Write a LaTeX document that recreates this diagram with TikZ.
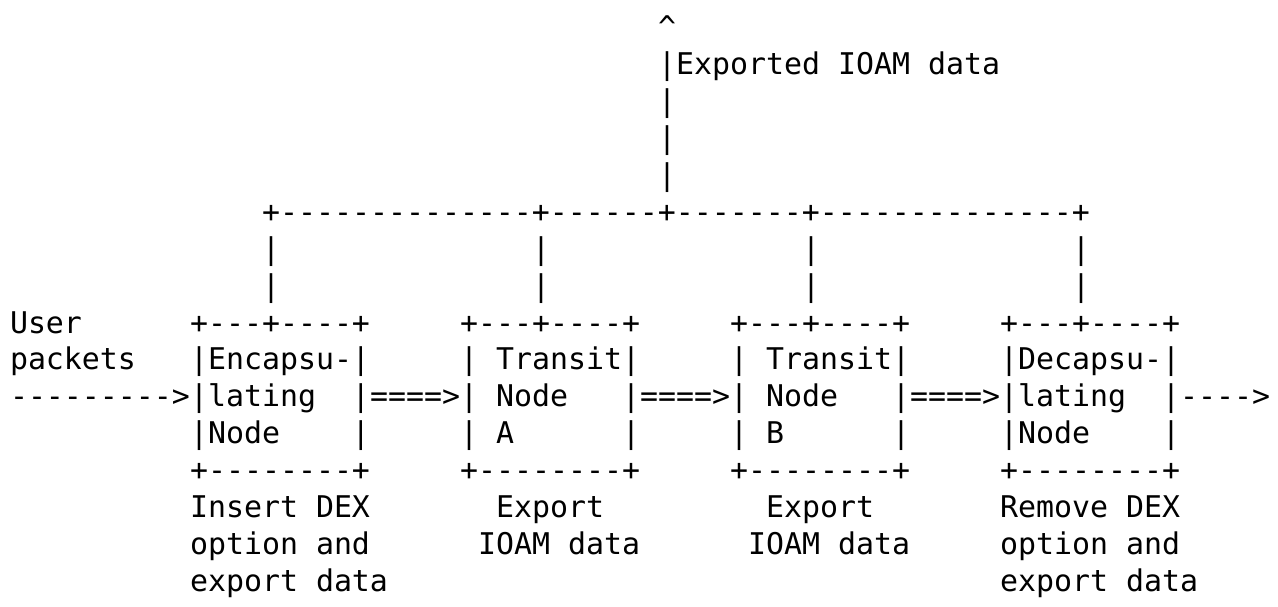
\documentclass[tikz,border=0pt]{standalone}
\usepackage{fontspec}
\setmonofont{DejaVu Sans Mono}
\begin{document}
\begin{tikzpicture}[x=18pt,y=-36.9pt,
  t/.style={inner sep=0pt,outer sep=0pt,anchor=base west,
            font=\ttfamily\fontsize{29.9}{36}\selectfont}]
\fill[white,use as bounding box] (-10pt,37.9pt) rectangle (1268pt,-569.1pt);
% upward export line
\node[t] (caret) at (36,0) {\textasciicircum};
\node[t] (explabel) at (36,1) {|Exported IOAM data};
\node[t] (up2) at (36,2) {|};
\node[t] (up3) at (36,3) {|};
\node[t] (up4) at (36,4) {|};
% collecting bus
\node[t] (bus) at (14,5) {+--------------+------+-------+--------------+};
\node[t] (d1a) at (14,6) {|};
\node[t] (d2a) at (29,6) {|};
\node[t] (d3a) at (44,6) {|};
\node[t] (d4a) at (59,6) {|};
\node[t] (d1b) at (14,7) {|};
\node[t] (d2b) at (29,7) {|};
\node[t] (d3b) at (44,7) {|};
\node[t] (d4b) at (59,7) {|};
% boxes: top edges
\node[t] (user) at (0,8) {User};
\node[t] (b1top) at (10,8) {+---+----+};
\node[t] (b2top) at (25,8) {+---+----+};
\node[t] (b3top) at (40,8) {+---+----+};
\node[t] (b4top) at (55,8) {+---+----+};
% row 9
\node[t] (packets) at (0,9) {packets};
\node[t] (b1r1) at (10,9) {|Encapsu-|};
\node[t] (b2r1) at (25,9) {|~Transit|};
\node[t] (b3r1) at (40,9) {|~Transit|};
\node[t] (b4r1) at (55,9) {|Decapsu-|};
% row 10 with arrows
\node[t] (inarrow) at (0,10) {--------->};
\node[t] (b1r2) at (10,10) {|lating~~|};
\node[t] (a12) at (20,10) {====>};
\node[t] (b2r2) at (25,10) {|~Node~~~|};
\node[t] (a23) at (35,10) {====>};
\node[t] (b3r2) at (40,10) {|~Node~~~|};
\node[t] (a34) at (50,10) {====>};
\node[t] (b4r2) at (55,10) {|lating~~|};
\node[t] (outarrow) at (65,10) {---->};
% row 11
\node[t] (b1r3) at (10,11) {|Node~~~~|};
\node[t] (b2r3) at (25,11) {|~A~~~~~~|};
\node[t] (b3r3) at (40,11) {|~B~~~~~~|};
\node[t] (b4r3) at (55,11) {|Node~~~~|};
% bottom edges
\node[t] (b1bot) at (10,12) {+--------+};
\node[t] (b2bot) at (25,12) {+--------+};
\node[t] (b3bot) at (40,12) {+--------+};
\node[t] (b4bot) at (55,12) {+--------+};
% captions
\node[t] (c1a) at (10,13) {Insert DEX};
\node[t] (c2a) at (27,13) {Export};
\node[t] (c3a) at (42,13) {Export};
\node[t] (c4a) at (55,13) {Remove DEX};
\node[t] (c1b) at (10,14) {option and};
\node[t] (c2b) at (26,14) {IOAM data};
\node[t] (c3b) at (41,14) {IOAM data};
\node[t] (c4b) at (55,14) {option and};
\node[t] (c1c) at (10,15) {export data};
\node[t] (c4c) at (55,15) {export data};
\end{tikzpicture}
\end{document}
